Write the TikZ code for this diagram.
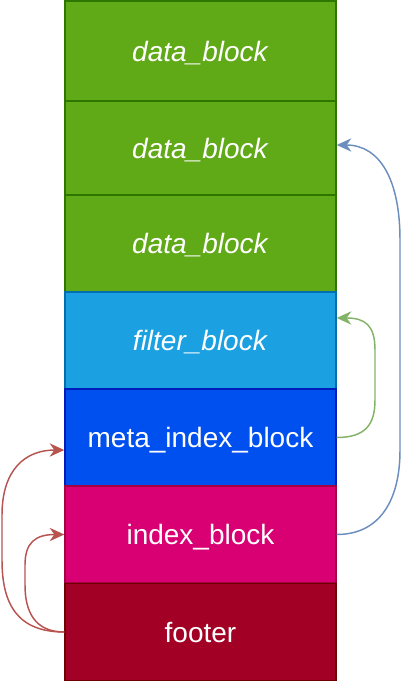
\documentclass[tikz,border=0pt]{standalone}
\usepackage{fontspec}
\setmainfont{Liberation Sans}
\usetikzlibrary{arrows.meta}

\definecolor{datafill}{HTML}{60A917}
\definecolor{datadraw}{HTML}{2D7600}
\definecolor{filterfill}{HTML}{1BA1E2}
\definecolor{filterdraw}{HTML}{006EAF}
\definecolor{metafill}{HTML}{0050EF}
\definecolor{metadraw}{HTML}{001DBC}
\definecolor{indexfill}{HTML}{D80073}
\definecolor{indexdraw}{HTML}{A50040}
\definecolor{footerfill}{HTML}{A20025}
\definecolor{footerdraw}{HTML}{6F0000}
\definecolor{redlink}{HTML}{B85450}
\definecolor{greenlink}{HTML}{82B366}
\definecolor{bluelink}{HTML}{6C8EBF}

\begin{document}
\begin{tikzpicture}[x=0.75pt,y=-0.75pt,
	blk/.style={draw,line width=1pt,text=white,minimum width=203.25pt,inner sep=0pt,text depth=0pt,font=\fontsize{21}{24}\selectfont},
	link/.style={line width=1.1pt,-{Stealth[length=11pt,width=10pt,inset=3.5pt]}}]
	
	\useasboundingbox (0,0) rectangle (402,684);
	
	% Draw data blocks
	\node[blk,fill=datafill,draw=datadraw,minimum height=75pt] (data1) at (200.5,51) {\textit{data\_block}};
	\node[blk,fill=datafill,draw=datadraw,minimum height=70.5pt] (data2) at (200.5,148) {\textit{data\_block}};
	\node[blk,fill=datafill,draw=datadraw,minimum height=72.75pt] (data3) at (200.5,243.5) {\textit{data\_block}};
	
	% Draw filter and index blocks
	\node[blk,fill=filterfill,draw=filterdraw,minimum height=72.75pt] (filter) at (200.5,340.5) {\textit{filter\_block}};
	\node[blk,fill=metafill,draw=metadraw,minimum height=72.75pt] (meta) at (200.5,437.5) {meta\_index\_block};
	\node[blk,fill=indexfill,draw=indexdraw,minimum height=72.75pt] (index) at (200.5,534.5) {index\_block};
	
	% Draw footer
	\node[blk,fill=footerfill,draw=footerdraw,minimum height=72.75pt] (footer) at (200.5,632) {footer};
	
	% Draw links from footer
	\draw[link,redlink] (footer.west) .. controls (18,632) and (2,605) .. (2,560) -- (2,515) .. controls (2,470) and (25,450) .. ([yshift=-9.4pt]meta.west);
	\draw[link,redlink] (footer.west) .. controls (35,632) and (25,612) .. (25,585) -- (25,565) .. controls (25,543) and (35,534.5) .. (index.west);
	
	% Draw links to filter and data
	\draw[link,greenlink] (meta.east) .. controls (365,437.5) and (375,425) .. (375,400) -- (375,350) .. controls (375,325) and (365,318) .. ([yshift=16.9pt]filter.east);
	\draw[link,bluelink] (index.east) .. controls (380,534.5) and (400,500) .. (400,450) -- (400,240) .. controls (400,180) and (380,145) .. ([yshift=2.25pt]data2.east);
	
\end{tikzpicture}
\end{document}
